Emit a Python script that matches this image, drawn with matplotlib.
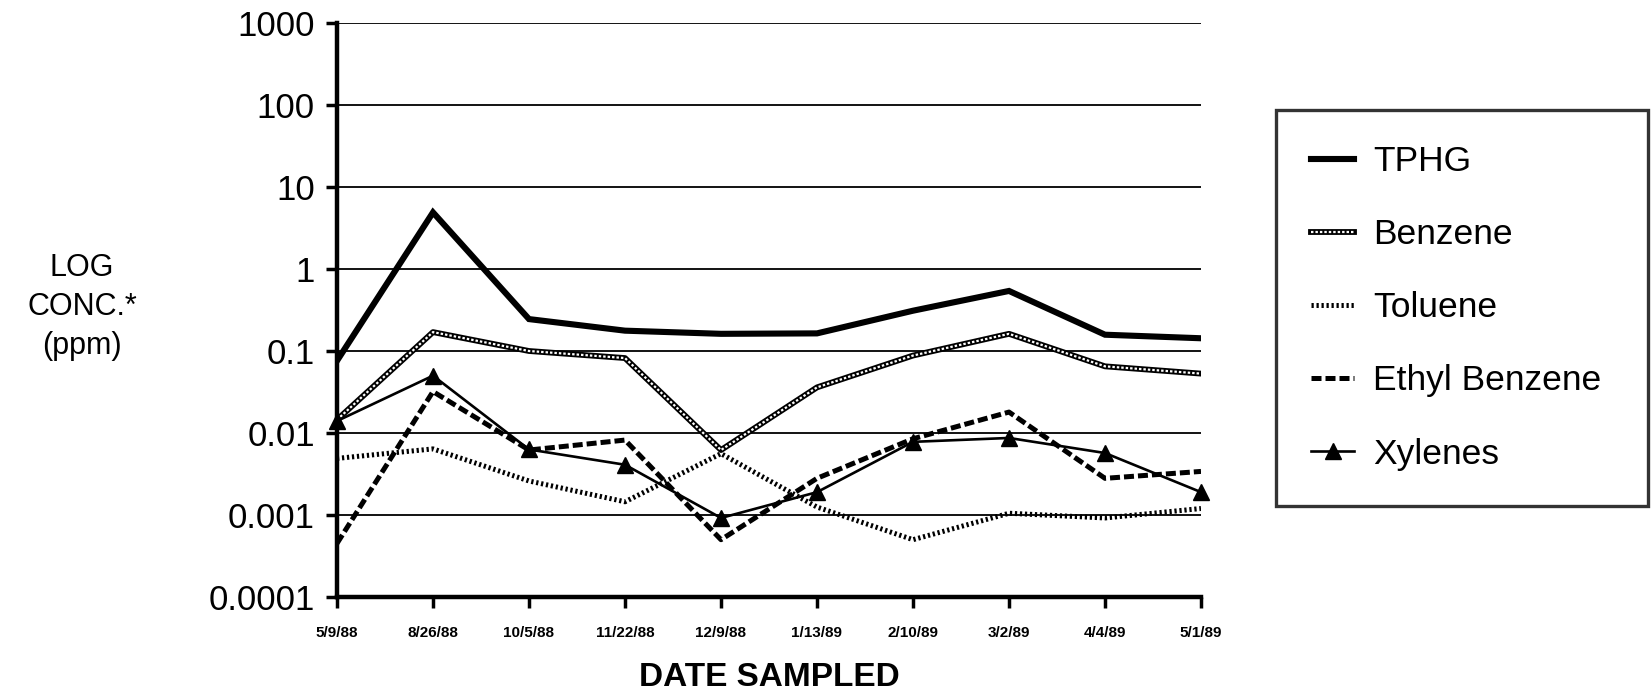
import matplotlib
matplotlib.use("Agg")
import matplotlib.pyplot as plt
from matplotlib.lines import Line2D
from matplotlib.legend_handler import HandlerTuple

# sample dates and concentrations (ppm)
dates = ['5/9/88', '8/26/88', '10/5/88', '11/22/88', '12/9/88',
         '1/13/89', '2/10/89', '3/2/89', '4/4/89', '5/1/89']
tphg = [0.076, 4.9, 0.245, 0.177, 0.162, 0.164, 0.31, 0.54, 0.158, 0.143]
benzene = [0.0145, 0.17, 0.10, 0.082, 0.0062, 0.036, 0.088, 0.162, 0.065, 0.053]
toluene = [0.0049, 0.0064, 0.0026, 0.00145, 0.0056, 0.00125, 0.0005, 0.00105, 0.00092, 0.0012]
ethyl_benzene = [0.00045, 0.032, 0.0062, 0.0082, 0.0005, 0.0028, 0.0085, 0.018, 0.0028, 0.0034]
xylenes = [0.0140, 0.050, 0.0063, 0.0041, 0.00092, 0.0019, 0.0078, 0.0087, 0.0057, 0.0019]

y_ticks = [0.0001, 0.001, 0.01, 0.1, 1, 10, 100, 1000]
y_labels = ['0.0001', '0.001', '0.01', '0.1', '1', '10', '100', '1000']

plt.rcParams['font.family'] = ['Liberation Sans', 'DejaVu Sans']

W, H = 1652, 692
fig = plt.figure(figsize=(W / 100, H / 100), dpi=100)
ax = fig.add_axes([337 / W, 1 - 597 / H, (1201 - 337) / W, (597 - 23) / H])

x = list(range(len(dates)))

# TPHG - heavy solid line
ax.plot(x, tphg, color='black', lw=4.4, solid_joinstyle='miter', zorder=5)

# Benzene - chain of small rings
ax.plot(x, benzene, color='black', lw=4.2, zorder=4)
ax.plot(x, benzene, color='white', lw=1.6, dashes=(1.1, 0.9), zorder=4.1)

# Toluene - hatched / dotted line
ax.plot(x, toluene, color='black', lw=3.6, dashes=(0.45, 0.55), zorder=3)

# Ethyl Benzene - heavy dashed line
ax.plot(x, ethyl_benzene, color='black', lw=3.6, dashes=(2.0, 0.8), zorder=3.5)

# Xylenes - thin line with triangles
ax.plot(x, xylenes, color='black', lw=1.9, marker='^', markersize=11,
        clip_on=False, zorder=6)

ax.set_yscale('log')
ax.set_ylim(0.0001, 1000)
ax.set_xlim(0, len(dates) - 1)
ax.set_yticks(y_ticks)
ax.set_yticklabels(y_labels)
ax.minorticks_off()
ax.set_xticks(x)
ax.set_xticklabels(dates, fontweight='bold')

ax.yaxis.grid(True, color='black', lw=1.3, zorder=0)
ax.set_axisbelow(True)

for side in ['top', 'right']:
    ax.spines[side].set_visible(False)
for side in ['left', 'bottom']:
    ax.spines[side].set_linewidth(3.2)
    ax.spines[side].set_zorder(7)

ax.tick_params(axis='y', direction='out', length=8, width=2.5, pad=8, labelsize=25)
ax.tick_params(axis='x', direction='out', length=8, width=2.5, pad=13, labelsize=11)

fig.text(82 / W, 1 - 307 / H, 'LOG\nCONC.*\n(ppm)', ha='center', va='center',
         fontsize=22, linespacing=1.4)
fig.text(769 / W, 1 - 677 / H, 'DATE SAMPLED', ha='center', va='center',
         fontsize=24, fontweight='bold')

# legend handles
h_tphg = Line2D([], [], color='black', lw=4.4)
h_benz = (Line2D([], [], color='black', lw=4.2),
          Line2D([], [], color='white', lw=1.6, dashes=(1.1, 0.9)))
h_tol = Line2D([], [], color='black', lw=3.6, dashes=(0.45, 0.55))
h_eth = Line2D([], [], color='black', lw=3.6, dashes=(2.0, 0.8))
h_xyl = Line2D([], [], color='black', lw=1.9, marker='^', markersize=11)

leg = fig.legend([h_tphg, h_benz, h_tol, h_eth, h_xyl],
                 ['TPHG', 'Benzene', 'Toluene', 'Ethyl Benzene', 'Xylenes'],
                 handler_map={tuple: HandlerTuple(ndivide=1)},
                 loc='upper left',
                 bbox_to_anchor=(1276 / W, 1 - 110 / H, 372 / W, 0),
                 mode='expand', fontsize=25.5, frameon=True, fancybox=False,
                 borderpad=1.0, labelspacing=1.13, handlelength=1.2,
                 handletextpad=0.55, borderaxespad=0)
leg.get_frame().set_edgecolor('black')
leg.get_frame().set_linewidth(2.4)

fig.savefig('out.png', dpi=100)
